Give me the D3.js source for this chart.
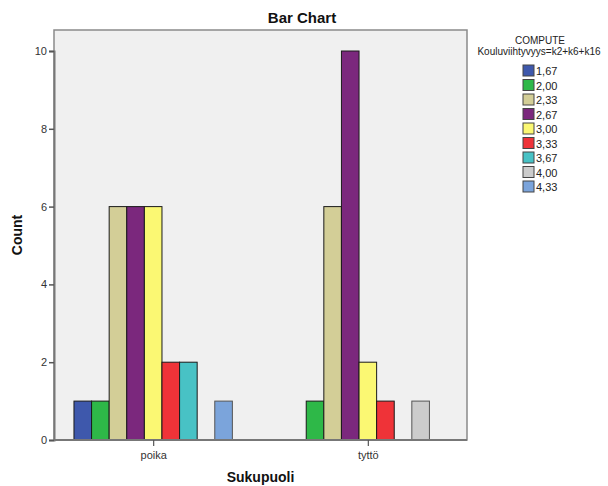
<!DOCTYPE html>
<html><head><meta charset="utf-8">
<script src="https://cdn.jsdelivr.net/npm/d3@7"></script>
<style>body{margin:0;background:#fff}svg{display:block}text{font-family:"Liberation Sans",Arial,sans-serif}</style>
</head><body>
<script>
const categories = ["poika", "tyttö"];
const seriesLabels = ["1,67","2,00","2,33","2,67","3,00","3,33","3,67","4,00","4,33"];
const poikaCounts = [1,1,6,6,6,2,2,0,1];
const tyttoCounts = [0,1,6,10,2,1,0,1,0];
const seriesColors = ["#3e58ac","#2eb848","#d3ce97","#7b287d","#fbf873","#ef3338","#48c2c5","#cccccc","#7ba4db"];
const yTicks = [0,2,4,6,8,10];

const counts = {"poika": poikaCounts, "tyttö": tyttoCounts};
const W = 608, H = 486;
const L = 54, R = 467, T = 30, B = 440;
const svg = d3.select("body").append("svg").attr("width", W).attr("height", H);

svg.append("rect").attr("x", L).attr("y", T).attr("width", R - L).attr("height", B - T)
  .attr("fill", "#f0f0f0").attr("stroke", "#8a8a8a").attr("stroke-width", 1.5);

const y = d3.scaleLinear().domain([0, 10]).range([B, 51]);
const x0 = d3.scalePoint().domain(categories).range([L, R]).padding(0.462);
const bw = 17.6;
const x1 = d3.scaleBand().domain(seriesLabels).range([-bw * 4.5, bw * 4.5]);

const data = [];
categories.forEach(c => seriesLabels.forEach((s, i) => data.push({c, s, i, v: counts[c][i]})));

svg.append("g").selectAll("rect").data(data.filter(d => d.v > 0)).join("rect")
  .attr("x", d => x0(d.c) + x1(d.s))
  .attr("y", d => y(d.v))
  .attr("width", x1.bandwidth())
  .attr("height", d => y(0) - y(d.v))
  .attr("fill", d => seriesColors[d.i])
  .attr("stroke", d => d.i >= 7 ? "#555" : "#1a1a1a")
  .attr("stroke-width", 1);

// Y axis
const ya = svg.append("g").attr("transform", `translate(${L},0)`)
  .call(d3.axisLeft(y).tickValues(yTicks).tickSize(5).tickPadding(2));
ya.select(".domain").attr("stroke", "#777").attr("stroke-width", 2);
ya.selectAll(".tick line").attr("stroke", "#555").attr("stroke-width", 1.5);
ya.selectAll(".tick text").attr("font-size", 11).attr("fill", "#333")
  .attr("font-family", "'Liberation Sans', Arial, sans-serif");

// X axis
const xa = svg.append("g").attr("transform", `translate(0,${B})`)
  .call(d3.axisBottom(x0).tickSize(6).tickPadding(5));
xa.select(".domain").attr("stroke", "#777").attr("stroke-width", 2).attr("d", `M${L},0H${R}`);
xa.selectAll(".tick line").attr("stroke", "#555").attr("stroke-width", 1.2);
xa.selectAll(".tick text").attr("font-size", 11).attr("fill", "#333")
  .attr("font-family", "'Liberation Sans', Arial, sans-serif");

svg.append("text").attr("x", 302).attr("y", 23).attr("text-anchor", "middle")
  .attr("font-size", 15).attr("font-weight", "bold").attr("fill", "#111").text("Bar Chart");
svg.append("text").attr("x", (L + R) / 2).attr("y", 482).attr("text-anchor", "middle")
  .attr("font-size", 14).attr("font-weight", "bold").attr("fill", "#111").text("Sukupuoli");
svg.append("text").attr("transform", `translate(22,${(T + B) / 2}) rotate(-90)`).attr("text-anchor", "middle")
  .attr("font-size", 14).attr("font-weight", "bold").attr("fill", "#111").text("Count");

// Legend
svg.append("text").attr("x", 540).attr("y", 44).attr("text-anchor", "middle")
  .attr("font-size", 10).attr("fill", "#222").text("COMPUTE");
svg.append("text").attr("x", 539).attr("y", 55).attr("text-anchor", "middle")
  .attr("font-size", 10).attr("fill", "#222").text("Kouluviihtyvyys=k2+k6+k16");
const lg = svg.append("g").selectAll("g").data(seriesLabels).join("g")
  .attr("transform", (d, i) => `translate(523,${65 + i * 14.5})`);
lg.append("rect").attr("width", 11).attr("height", 11)
  .attr("fill", (d, i) => seriesColors[i]).attr("stroke", "#444").attr("stroke-width", 1);
lg.append("text").attr("x", 13).attr("y", 10).attr("font-size", 11).attr("fill", "#222").text(d => d);
</script>
</body></html>
